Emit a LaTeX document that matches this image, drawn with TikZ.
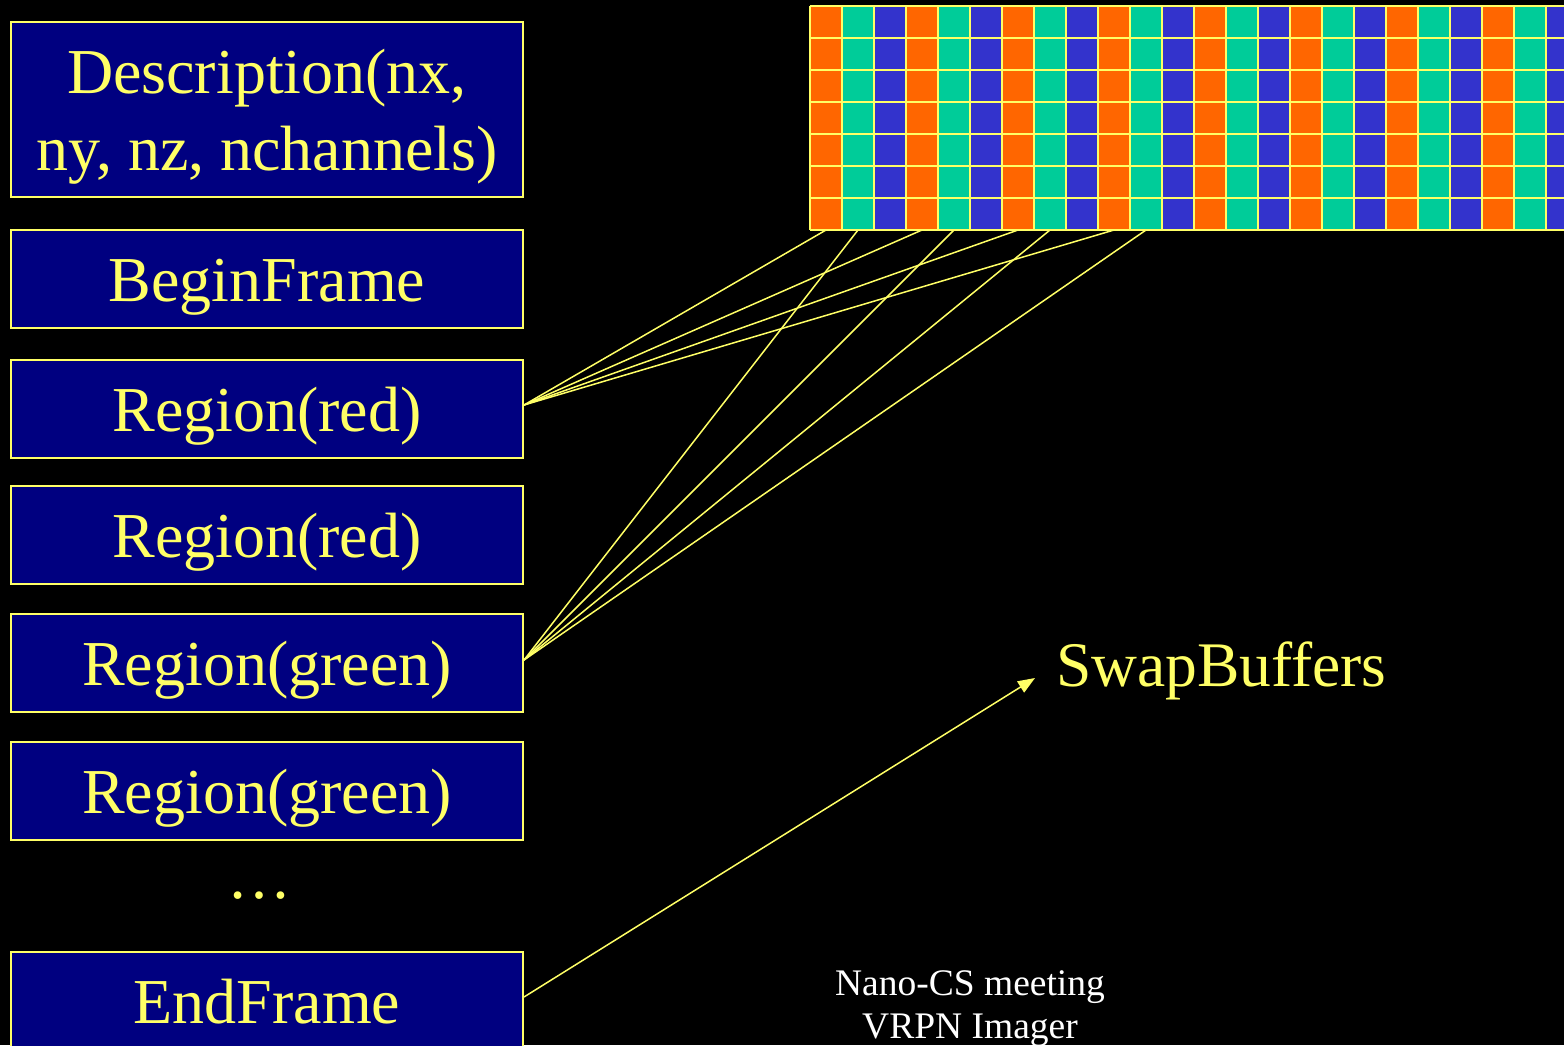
\documentclass[tikz,border=0pt]{standalone}
\usepackage{fontspec}
\setmainfont{Liberation Serif}
\usetikzlibrary{arrows.meta}
\definecolor{yel}{HTML}{FFFF66}
\definecolor{navyc}{HTML}{000080}
\definecolor{cor}{HTML}{FF6600}
\definecolor{cgr}{HTML}{00CC99}
\definecolor{cbl}{HTML}{3333CC}
\begin{document}
\begin{tikzpicture}[x=1pt,y=-1pt,
  cmdbox/.style={draw=yel, line width=2pt, fill=navyc, text=yel, minimum width=512pt,
    minimum height=98pt, inner sep=0pt, font=\fontsize{64}{77}\selectfont},
  oneline/.style={text height=44pt, text depth=0pt},
  link/.style={draw=yel, line width=1.5pt},
  gridline/.style={draw=yel, line width=2.5pt}]
\useasboundingbox (0,0) rectangle (1564,1045);
\clip (0,0) rectangle (1564,1045);
\fill[black] (0,0) rectangle (1564,1045);

% pixel grid
\foreach \i in {0,...,23} {
  \pgfmathtruncatemacro\m{mod(\i,3)}
  \ifcase\m \def\cc{cor}\or \def\cc{cgr}\or \def\cc{cbl}\fi
  \fill[\cc] ({810+32*\i},6) rectangle ({842+32*\i},230);
}
\foreach \i in {0,...,24} \draw[gridline] ({810+32*\i},6) -- ({810+32*\i},230);
\foreach \j in {0,...,7} \draw[gridline] (810,{6+32*\j}) -- (1580,{6+32*\j});

\coordinate (o0) at (826,230);
\coordinate (o1) at (922,230);
\coordinate (o2) at (1018,230);
\coordinate (o3) at (1114,230);
\coordinate (g0) at (858,230);
\coordinate (g1) at (954,230);
\coordinate (g2) at (1050,230);
\coordinate (g3) at (1146,230);

% command boxes
\node[cmdbox, minimum height=175pt, align=center, text height=121pt, text depth=0pt] (desc) at (267,109.5) {Description(nx,\\ny, nz, nchannels)};
\node[cmdbox, oneline] (begin) at (267,279) {BeginFrame};
\node[cmdbox, oneline] (red1) at (267,409) {Region(red)};
\node[cmdbox, oneline] (red2) at (267,535) {Region(red)};
\node[cmdbox, oneline] (grn1) at (267,663) {Region(green)};
\node[cmdbox, oneline] (grn2) at (267,791) {Region(green)};
\node[text=yel, font=\fontsize{64}{77}\selectfont, inner sep=0pt, anchor=base] (dots) at (259,898) {…};
\node[cmdbox, oneline] (endf) at (267,1001) {EndFrame};

\node[text=yel, font=\fontsize{63.5}{76}\selectfont, inner sep=0pt, text height=44pt, text depth=0pt, anchor=west] (swap) at (1056,664) {SwapBuffers};
\coordinate (swaptip) at (1035,678);

% connectors
\foreach \c in {o0,o1,o2,o3} \draw[link] ([yshift=4pt]red1.east) -- (\c);
\foreach \c in {g0,g1,g2,g3} \draw[link] ([yshift=3pt]grn1.east) -- (\c);
\draw[link, -{Triangle[length=17pt,width=13pt]}] ([yshift=4pt]endf.east) -- (swaptip);

% footer
\node[text=white, font=\fontsize{37.5}{43}\selectfont, inner sep=0pt, anchor=base, align=center] (foot) at (970,1038) {Nano-CS meeting\\VRPN Imager};
\end{tikzpicture}
\end{document}
